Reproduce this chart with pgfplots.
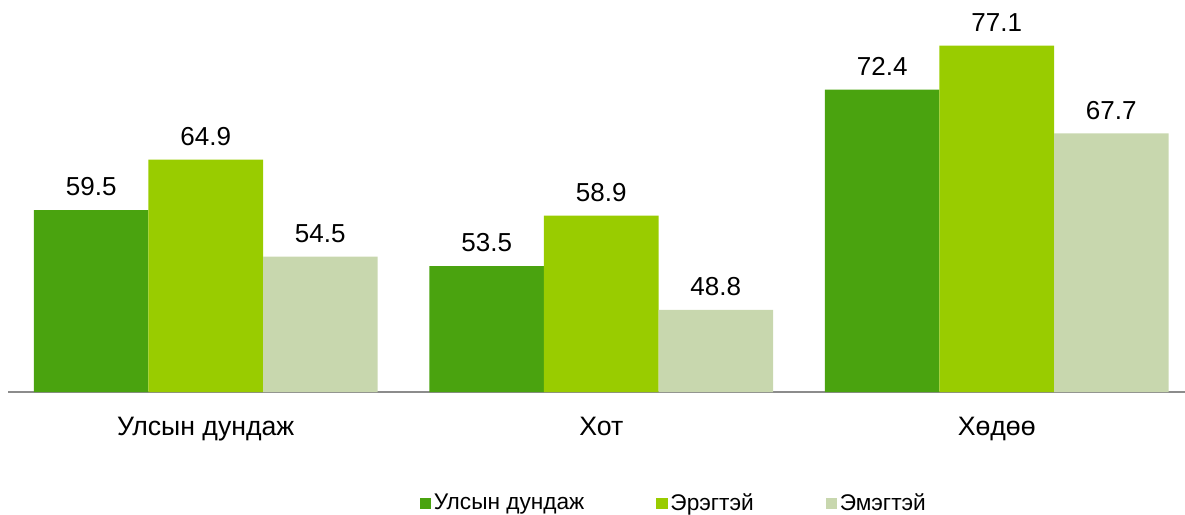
\documentclass[border=0pt]{standalone}
\usepackage{fontspec}
\setmainfont{Liberation Sans}
\usepackage{pgfplots}
\pgfplotsset{compat=1.18}
\definecolor{cA}{HTML}{4AA30F}
\definecolor{cB}{HTML}{99CC00}
\definecolor{cC}{HTML}{C8D7AE}
\definecolor{axgray}{HTML}{8C8C8C}
\begin{document}
\begin{tikzpicture}
\useasboundingbox (-6pt,-91.5pt) rectangle (882.75pt,294pt);
\begin{axis}[
  at={(0,0)}, anchor=south west,
  scale only axis, width=882.75pt, height=280pt,
  ymin=40, ymax=80, xmin=-0.5, xmax=2.476,
  ybar=0pt, bar width=85.9pt,
  axis x line=bottom, axis y line=none, ytick=\empty,
  x axis line style={-, draw=axgray, line width=1.5pt},
  xtick={0,1,2},
  xticklabels={Улсын дундаж, Хот, Хөдөө},
  major tick length=0pt,
  xticklabel style={font=\fontsize{20}{24}\selectfont, yshift=-15pt},
  nodes near coords,
  every node near coord/.append style={font=\fontsize{19.5}{23}\selectfont, yshift=7pt, text=black},
  /pgf/number format/fixed, /pgf/number format/precision=1,
  /pgf/number format/fixed zerofill, /pgf/number format/assume math mode=true,
  clip mode=individual,
  legend columns=3,
  legend style={draw=none, fill=none, at={(0.566,-0.297)}, anchor=center,
    font=\fontsize{17}{20}\selectfont,
    nodes={inner xsep=2pt},
    /tikz/every even column/.append style={column sep=52pt}},
  legend image code/.code={\fill[#1] (0pt,-4.5pt) rectangle (8.5pt,4pt);},
]
\addplot[fill=cA, draw=none] coordinates {(0,59.5) (1,53.5) (2,72.4)};
\addplot[fill=cB, draw=none] coordinates {(0,64.9) (1,58.9) (2,77.1)};
\addplot[fill=cC, draw=none] coordinates {(0,54.5) (1,48.8) (2,67.7)};
\legend{Улсын дундаж, Эрэгтэй, Эмэгтэй}
\end{axis}
\end{tikzpicture}
\end{document}
